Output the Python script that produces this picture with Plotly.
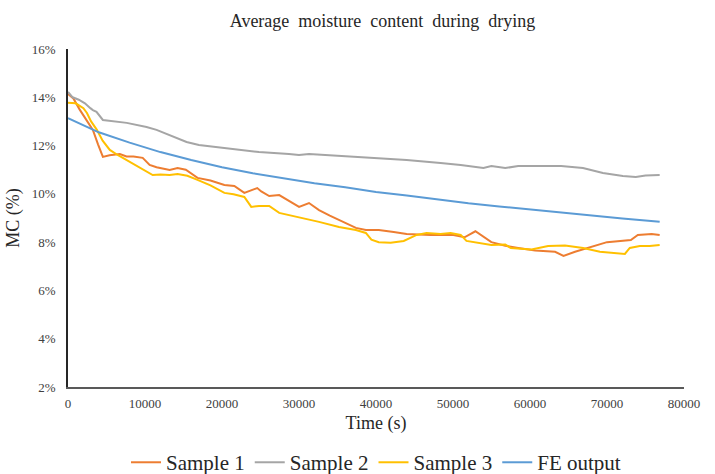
import plotly.graph_objects as go

# Drying time (s) and moisture content (%) for each series
t_s1 = [0, 700, 1500, 2400, 3230, 3900, 4530, 5400, 6730, 7600, 8500, 9700, 10600, 11500,
        13200, 14230, 15300, 16820, 18500, 20310, 21600, 22900, 23800, 24580, 25100, 26130,
        27430, 28700, 30010, 31300, 32600, 34000, 35190, 37390, 38680, 40360, 42300, 43980,
        47090, 50060, 51500, 52910, 54980, 56790, 58470, 60670, 63260, 64350, 65850, 67530,
        70000, 73100, 74000, 75800, 76840]
mc_s1 = [14.14, 13.95, 13.5, 13.05, 12.65, 12.05, 11.53, 11.6, 11.65, 11.55, 11.55, 11.49, 11.2, 11.1,
         10.99, 11.07, 11.0, 10.66, 10.55, 10.37, 10.33, 10.04, 10.15, 10.24, 10.1, 9.91,
         9.95, 9.7, 9.46, 9.62, 9.33, 9.1, 8.92, 8.59, 8.5, 8.5, 8.42, 8.34,
         8.3, 8.3, 8.2, 8.45, 8.0, 7.85, 7.76, 7.65, 7.6, 7.43, 7.6, 7.76,
         8.0, 8.09, 8.3, 8.34, 8.3]

t_s2 = [0, 600, 1400, 2200, 2900, 3230, 3700, 4530, 7630, 10200, 11500, 13200, 15400, 17000,
        20500, 24800, 28700, 30000, 31300, 34000, 37000, 40360, 43980, 48380, 51000, 53950,
        54980, 56790, 58470, 62350, 64040, 66880, 69470, 72060, 73740, 75000, 76840]
mc_s2 = [14.22, 14.0, 13.9, 13.75, 13.55, 13.47, 13.4, 13.06, 12.94, 12.77, 12.65, 12.44, 12.15, 12.02,
         11.9, 11.73, 11.65, 11.61, 11.65, 11.6, 11.55, 11.49, 11.4, 11.28, 11.2, 11.07,
         11.15, 11.07, 11.15, 11.15, 11.15, 11.07, 10.86, 10.74, 10.7, 10.76, 10.78]

t_s3 = [0, 1000, 2000, 2460, 3000, 3750, 4500, 5430, 6500, 7630, 8500, 9310, 10200, 11000,
        12000, 13200, 14230, 15500, 16820, 18500, 20310, 21500, 22900, 23800, 24800, 26130,
        27430, 30010, 32600, 35190, 37390, 38680, 39400, 40360, 41900, 43600, 45280, 46570,
        48380, 49680, 51000, 51750, 53300, 54980, 56790, 57500, 60200, 62350, 64550, 66900,
        69080, 71150, 72320, 72960, 74260, 75550, 76840]
mc_s3 = [13.77, 13.75, 13.55, 13.35, 13.0, 12.65, 12.2, 11.82, 11.6, 11.4, 11.25, 11.11, 10.95, 10.78,
         10.8, 10.78, 10.82, 10.75, 10.58, 10.35, 10.04, 9.98, 9.87, 9.46, 9.5, 9.5,
         9.21, 9.04, 8.84, 8.63, 8.5, 8.38, 8.1, 8.0, 7.98, 8.05, 8.3, 8.38,
         8.34, 8.38, 8.3, 8.05, 7.96, 7.88, 7.9, 7.76, 7.7, 7.84, 7.86, 7.76,
         7.6, 7.55, 7.51, 7.76, 7.84, 7.84, 7.88]

t_fe = [0, 4000, 8000, 12000, 16000, 20000, 24000, 28000, 32000, 36000, 40000, 44000, 48000,
        52000, 56000, 60000, 64000, 68000, 72000, 76840]
mc_fe = [13.14, 12.55, 12.12, 11.73, 11.4, 11.1, 10.85, 10.63, 10.44, 10.27, 10.08, 9.93, 9.76,
         9.61, 9.48, 9.35, 9.22, 9.1, 8.98, 8.84]

series = [
    ("Sample 1", t_s1, mc_s1, "#ED7D31"),
    ("Sample 2", t_s2, mc_s2, "#A5A5A5"),
    ("Sample 3", t_s3, mc_s3, "#FFC000"),
    ("FE output", t_fe, mc_fe, "#5B9BD5"),
]

FONT = "Liberation Serif, Times New Roman, serif"

fig = go.Figure()
for name, t, mc, color in series:
    fig.add_trace(go.Scatter(x=t, y=mc, name=name, mode="lines",
                             line=dict(color=color, width=2)))

fig.update_layout(
    width=715, height=474,
    margin=dict(l=68, r=31, t=49, b=87, autoexpand=False),
    paper_bgcolor="white", plot_bgcolor="white",
    font=dict(family=FONT, color="#404040"),
    title=dict(text="Average  moisture  content  during  drying", x=0.535, xanchor="center",
               y=0.957, yanchor="middle", font=dict(family=FONT, size=18, color="#262626")),
    showlegend=True,
    legend=dict(orientation="h", x=0.5, xanchor="center", yref="container",
                y=0.024, yanchor="middle",
                font=dict(family=FONT, size=21, color="#262626"), itemwidth=30,
                tracegroupgap=0),
)
fig.update_xaxes(
    range=[0, 80000], dtick=10000, tick0=0, tickformat="d",
    showgrid=False, zeroline=False, showline=True, linecolor="#595959", linewidth=1.5,
    ticks="", ticklabelstandoff=4, tickfont=dict(family=FONT, size=13, color="#404040"),
    title=dict(text="Time (s)", font=dict(family=FONT, size=18, color="#262626"), standoff=6),
)
fig.update_yaxes(
    range=[2, 16], dtick=2, tick0=2, ticksuffix="%",
    showgrid=False, zeroline=False, showline=True, linecolor="#262626", linewidth=1.5,
    ticks="", ticklabelstandoff=8, tickfont=dict(family=FONT, size=13, color="#404040"),
    title=dict(text="MC (%)", font=dict(family=FONT, size=18, color="#262626"), standoff=8),
)

fig.write_html("out.html")
